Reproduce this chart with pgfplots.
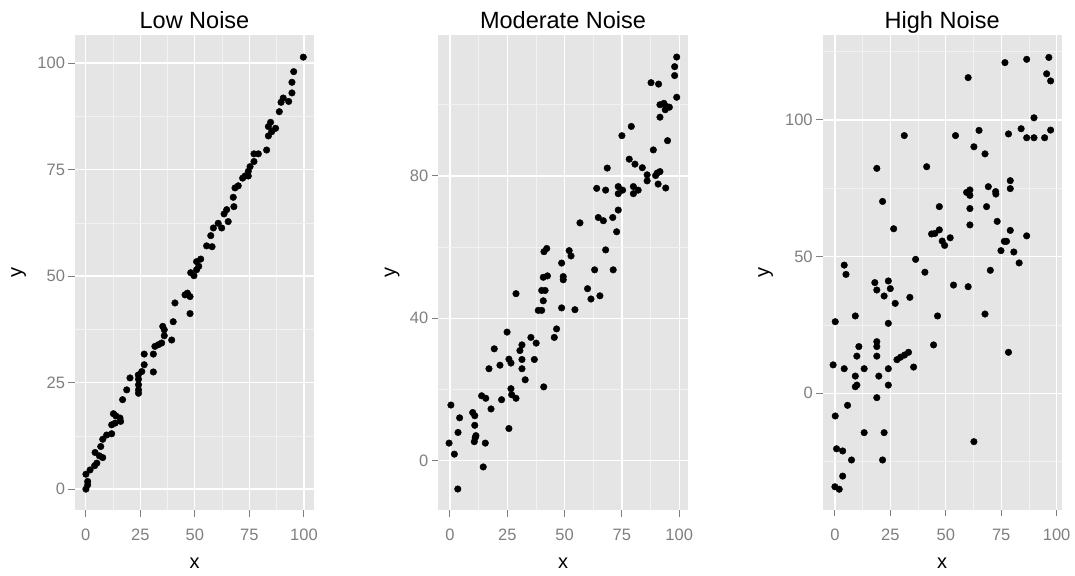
\documentclass[border=0pt]{standalone}
\usepackage{pgfplots}
\pgfplotsset{compat=1.18}
\usepackage{fontspec}
\setmainfont{Liberation Sans}
\definecolor{ggbg}{HTML}{E5E5E5}
\definecolor{ggminor}{HTML}{F2F2F2}
\definecolor{ggtick}{HTML}{7F7F7F}
\pgfplotsset{
  ggpts/.style={only marks, mark=*, mark size=3.3pt, black, mark options={solid, fill=black, draw=black}},
  ggstyle/.style={
    scale only axis,
    height=475pt,
    anchor=south west,
    axis background/.style={fill=ggbg},
    axis line style={draw=none},
    grid=both,
    major grid style={white, line width=1.3pt},
    minor grid style={ggminor, line width=0.7pt},
    tick align=outside,
    xtick pos=bottom, ytick pos=left,
    major tick length=6.5pt,
    minor tick length=0pt,
    every tick/.append style={ggtick, line width=1pt},
    tick label style={font=\fontsize{16.5}{16.5}\selectfont, text=ggtick},
    xticklabel style={yshift=-9pt},
    /pgf/number format/assume math mode=true,
    xtick={0,25,50,75,100},
    minor xtick={12.5,37.5,62.5,87.5},
    title style={font=\fontsize{23.5}{23.5}\selectfont, at={(axis description cs:0.5,1)}, anchor=base, yshift=0.7pt},
    xlabel style={font=\fontsize{20}{20}\selectfont, at={(axis description cs:0.5,0)}, anchor=base, yshift=-58.3pt},
    ylabel style={font=\fontsize{20}{20}\selectfont, anchor=base},
    xlabel={x}, ylabel={y},
  }
}
\begin{document}
\begin{tikzpicture}
\useasboundingbox (0,0) rectangle (1075pt,575pt);
% Panel 1
\begin{axis}[ggstyle, at={(75pt,65pt)}, width=239pt,
  title={Low Noise},
  xmin=-4.9, xmax=104.6, ymin=-4.9, ymax=106.6,
  ytick={0,25,50,75,100}, minor ytick={12.5,37.5,62.5,87.5},
  ylabel style={at={(axis description cs:-0.222,0.5)}}]
\addplot[ggpts] coordinates {
(99.7,101.4) (95.3,98.0) (94.5,95.5) (94.5,93.0) (93.0,91.0) (90.5,91.8) (89.5,90.8) (88.7,88.6)
(84.7,86.1) (83.7,85.1) (87.0,84.7) (83.7,82.9) (85.2,83.9) (82.9,79.6) (79.1,78.7) (77.1,78.7)
(77.1,76.9) (75.3,75.7) (74.5,74.6) (73.0,73.5) (74.5,73.5) (71.9,73.0) (69.9,71.2) (68.4,70.7)
(67.6,68.5) (67.9,66.3) (64.6,65.6) (63.4,64.6) (65.3,62.8) (60.7,62.4) (58.5,61.3) (62.3,61.3)
(57.3,59.5) (55.4,57.1) (57.9,56.9) (52.7,54.0) (50.8,53.4) (51.8,52.3) (50.8,51.5) (48.1,50.8)
(49.6,50.1) (45.5,45.6) (47.8,45.2) (46.6,46.0) (40.9,43.7)
(47.8,41.2) (40.1,39.3) (35.3,38.2) (36.0,37.4) (36.0,36.0) (39.4,35.0) (34.8,34.3) (33.3,33.9)
(31.7,33.5) (31.0,31.7) (26.8,31.7) (26.8,29.2) (31.0,27.5) (25.7,27.6) (24.1,26.8) (20.3,26.1)
(24.2,25.8) (24.2,24.5) (24.2,23.3) (24.2,22.5) (18.8,23.3) (16.9,21.0) (12.7,17.7) (13.8,17.2)
(15.7,16.7) (16.0,15.9) (13.5,15.5) (11.9,15.1) (11.9,13.0) (9.6,12.7) (7.8,11.7) (6.9,10.0)
(4.3,8.6) (6.3,7.8) (7.8,7.4) (5.1,6.1) (4.1,5.5) (2.0,4.5) (0.1,3.5) (0.9,1.8) (0.9,1.0) (0.1,0.0)
};
\end{axis}
% Panel 2
\begin{axis}[ggstyle, at={(438.3pt,65pt)}, width=249.4pt,
  title={Moderate Noise},
  xmin=-5.1, xmax=103.7, ymin=-13.9, ymax=119.6,
  ytick={0,40,80}, minor ytick={20,60,100},
  ylabel style={at={(axis description cs:-0.172,0.5)}}]
\addplot[ggpts] coordinates {
(98.9,113.4) (98.0,110.7) (98.0,108.2) (98.9,102.1) (87.7,106.2) (91.0,105.8) (91.6,100.0) (93.3,100.4)
(94.5,99.5) (95.7,99.3) (93.9,98.6) (91.6,96.5) (94.9,89.9) (88.7,87.3) (79.1,93.9) (75.0,91.3)
(78.2,84.7) (80.7,83.3) (83.9,82.3) (68.6,82.2) (86.0,80.3) (86.0,78.6) (90.4,80.8) (91.6,81.2)
(89.7,80.1) (90.8,77.7) (94.1,76.6) (64.0,76.5) (67.9,76.0) (73.4,77.0) (73.4,75.0) (75.3,76.0)
(80.0,77.0) (80.0,75.0) (82.1,76.0) (73.4,70.4) (71.0,68.3) (72.7,64.3) (64.7,68.3) (66.9,67.4)
(67.9,59.2) (56.7,66.8) (63.1,53.6) (71.2,53.6) (52.0,59.0) (52.8,57.5) (41.0,58.7) (42.2,59.6)
(48.7,55.5) (40.7,51.5) (42.5,51.9) (49.4,51.7) (49.4,50.8) (60.0,48.3) (61.5,45.4) (65.4,46.3)
(28.8,46.9) (40.0,47.8) (41.5,47.8) (40.7,44.9) (48.7,42.9) (54.5,42.4) (38.5,42.2) (40.0,42.2)
(24.9,36.1) (46.5,37.0) (45.5,34.6) (35.3,34.6) (37.6,33.0) (31.4,32.5) (30.5,30.9) (19.3,31.4)
(25.7,28.5) (26.6,27.4) (31.4,28.4) (36.8,28.4) (21.8,26.8) (17.0,25.8) (31.4,25.8) (32.8,22.7)
(40.9,20.7) (26.6,20.2) (26.9,18.5) (28.8,17.5) (22.5,17.1) (13.8,18.2) (15.6,17.5) (17.9,14.5)
(0.4,15.6) (4.2,12.0) (9.9,13.5) (10.8,12.6) (10.8,9.9) (3.5,7.9) (11.3,7.0) (11.0,6.4)
(10.6,5.3) (15.4,4.9) (-0.4,4.9) (1.9,1.8) (14.5,-1.8) (3.4,-8.0) (25.7,9.0)
};
\end{axis}
% Panel 3
\begin{axis}[ggstyle, at={(822.7pt,65pt)}, width=239pt,
  title={High Noise},
  xmin=-5.5, xmax=102.3, ymin=-42.7, ymax=131.1,
  ytick={0,50,100}, minor ytick={-25,25,75,125},
  ylabel style={at={(axis description cs:-0.225,0.5)}}]
\addplot[ggpts] coordinates {
(4.2,46.9) (5.0,43.5) (18.0,40.5) (18.9,37.8) (24.1,41.1) (25.0,38.3) (22.2,35.6) (27.2,32.9)
(33.8,35.1) (18.9,82.3) (21.5,70.2) (26.5,60.2) (31.3,94.3) (36.4,49.0) (40.6,44.3) (41.4,82.9)
(47.1,68.3) (43.6,58.3) (45.1,58.5) (47.1,59.8) (48.4,55.7) (49.5,54.1) (52.0,56.9) (53.5,39.6)
(54.4,94.3) (60.1,115.5) (60.1,39.0) (59.4,73.5) (60.9,74.4) (60.9,72.4) (60.9,67.6) (60.9,61.6)
(62.7,90.2) (65.0,96.2) (67.7,87.6) (68.4,68.3) (69.2,75.6) (72.5,73.8) (72.6,72.9) (73.2,62.9)
(70.1,45.0) (74.9,52.2) (76.7,121.0) (78.3,94.9) (79.1,77.8) (79.1,74.9) (79.1,59.6) (76.4,55.6)
(77.4,55.6) (80.7,51.7) (83.1,47.7) (84.0,96.8) (86.5,122.2) (86.5,57.6) (86.5,93.5) (89.8,100.8)
(89.8,93.5) (94.6,93.5) (96.5,122.9) (95.5,116.9) (97.3,114.3) (97.3,96.3)
(0.15,26.2) (9.2,28.3) (24.1,25.6) (46.3,28.3) (67.7,29.0) (44.5,17.7) (78.3,15.0) (-0.8,10.4)
(4.2,9.0) (10.8,17.1) (9.9,13.6) (9.2,6.3) (9.2,2.4) (9.9,3.0) (13.2,9.0) (18.9,18.9)
(18.9,17.1) (18.9,13.6) (19.8,6.3) (18.9,-1.6) (24.1,9.0) (24.1,3.0) (28.0,12.3) (29.6,13.2)
(31.4,14.0) (33.2,15.0) (35.5,9.6) (5.7,-4.4) (0.15,-8.3) (13.2,-14.4) (22.2,-14.4) (62.7,-17.7)
(0.75,-20.3) (3.5,-21.1) (7.5,-24.4) (21.5,-24.4) (3.5,-30.3) (0.0,-34.2) (1.95,-35.1)
};
\end{axis}
\end{tikzpicture}
\end{document}
